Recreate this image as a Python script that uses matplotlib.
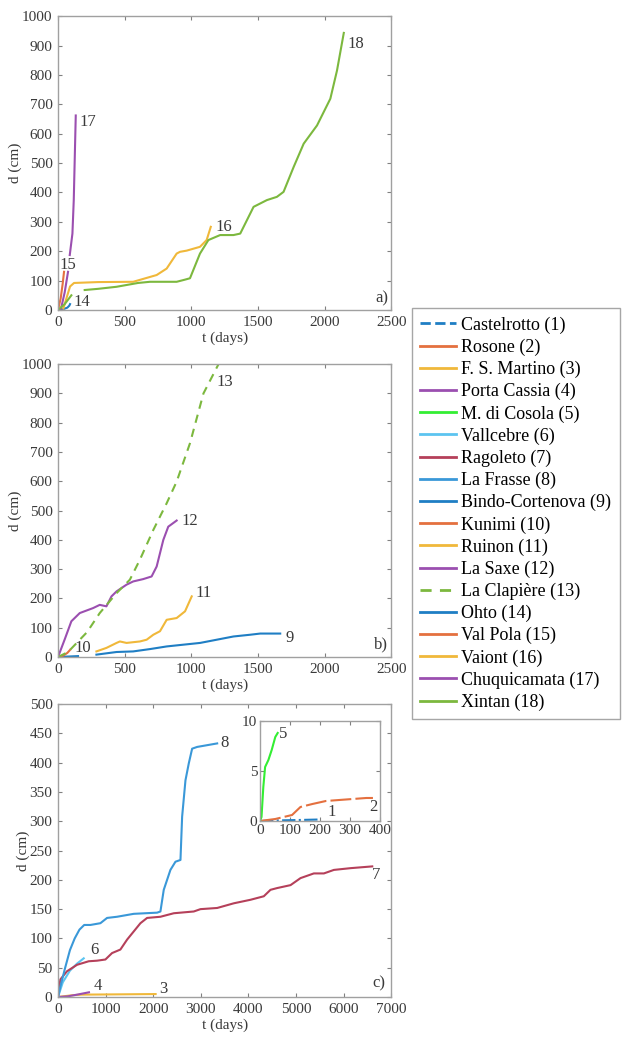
import numpy as np
import matplotlib
matplotlib.use("Agg")
import matplotlib.pyplot as plt
from matplotlib.lines import Line2D

plt.rcParams['font.family'] = ['Liberation Serif', 'DejaVu Serif']

# colours (MATLAB default order, a bit faded like the scan)
BLUE = '#1f7ec4'
ORANGE = '#e4703f'
YELLOW = '#f0b83a'
PURPLE = '#9b4fb0'
GREEN = '#7cb83e'
LGREEN = '#33ee33'
CYAN = '#5cc4f0'
RED = '#b5405a'
FRASSE = '#3a98d8'

# ---- panel a ----
t_ohto = [0, 40, 70, 85, 90]
d_ohto = [0, 3, 8, 15, 20]
t_valpola = [0, 20, 35, 45]
d_valpola = [0, 40, 90, 130]
t_vaiont = [40, 70, 90, 120, 300, 564, 740, 815, 890, 915, 965, 1065, 1115, 1146]
d_vaiont = [5, 50, 80, 92, 95, 96, 119, 141, 192, 198, 202, 215, 238, 283]
t_chuqui = [20, 50, 75, np.nan, 88, 108, 118, 133]
d_chuqui = [0, 60, 130, np.nan, 187, 260, 374, 662]
t_xintan = [0, 50, 100, np.nan, 200, 300, 439, 600, 690, 890, 950, 990, 1065, 1128, 1216, 1316,
            1367, 1467, 1567, 1642, 1692, 1768, 1843, 1943, 2043, 2093, 2144]
d_xintan = [0, 20, 50, np.nan, 68, 72, 79, 92, 96, 96, 103, 108, 192, 238, 255, 255,
            260, 351, 374, 385, 402, 487, 566, 628, 719, 815, 943]

# ---- panel b ----
t_bindo = [0, 150, np.nan, 288, 439, 564, 690, 815, 940, 1066, 1191, 1316, 1442, 1517, 1667]
d_bindo = [0, 3, np.nan, 8, 17, 19, 27, 36, 42, 48, 59, 70, 76, 80, 80]
t_kunimi = [0, 40, 70, 90]
d_kunimi = [0, 5, 14, 24]
t_ruinon = [288, 363, 439, 464, 514, 614, 665, 715, 765, 815, 890, 953, 1003]
d_ruinon = [19, 31, 48, 53, 48, 53, 59, 76, 88, 127, 133, 156, 207]
t_saxe = [0, 50, 100, 163, 263, 313, 363, 401, 439, 514, 564, 639, 702, 740, 790, 827, 890]
d_saxe = [0, 60, 122, 150, 167, 178, 173, 207, 224, 247, 258, 266, 275, 309, 400, 445, 466]
t_clap = [0, 75, 218, 313, 439, 539, 614, 715, 815, 890, 990, 1091, 1204]
d_clap = [0, 17, 85, 150, 218, 264, 332, 434, 525, 599, 730, 900, 1000]

# ---- panel c ----
t_martino = [0, 300, 500, 2050]
d_martino = [0, 3, 4, 5]
t_cassia = [0, 200, 400, 650]
d_cassia = [0, 1, 4, 8]
t_vallc = [0, 100, 250, 400, 540]
d_vallc = [0, 25, 45, 57, 66]
t_rago = [0, 49, 189, 400, 645, 820, 995, 1135, 1310, 1451, 1591, 1731, 1871, 2151, 2432, 2852,
          2992, 3343, 3693, 4043, 4323, 4463, 4603, 4884, 5094, 5374, 5585, 5795, 6146, 6601]
d_rago = [0, 30, 44, 55, 61, 62, 64, 75, 81, 98, 112, 126, 135, 137, 143, 146,
          150, 152, 160, 166, 172, 183, 186, 191, 203, 211, 211, 217, 220, 223]
t_frasse = [0, 50, 150, 250, 350, 450, 550, 680, 890, 1030, 1240, 1590, 2081, 2151, 2221, 2361,
            2467, 2572, 2607, 2677, 2747, 2817, 2922, 3343]
d_frasse = [0, 18, 50, 80, 100, 115, 123, 123, 126, 135, 137, 142, 144, 146, 183, 217,
            231, 234, 308, 370, 399, 424, 427, 433]

# ---- inset ----
t_castel = [0, 50, 130, 200]
d_castel = [0, 0.05, 0.1, 0.15]
t_rosone = [0, 51, 107, 135, 175, 220, 265, 310, 355, 377]
d_rosone = [0, 0.2, 0.6, 1.4, 1.7, 2.0, 2.1, 2.2, 2.3, 2.3]
t_cosola = [0, 5, 11, 17, 28, 39, 51, 59]
d_cosola = [0, 0.4, 3.4, 5.4, 6.1, 7.1, 8.4, 8.8]

names = ['Castelrotto (1)', 'Rosone (2)', 'F. S. Martino (3)', 'Porta Cassia (4)',
         'M. di Cosola (5)', 'Vallcebre (6)', 'Ragoleto (7)', 'La Frasse (8)',
         'Bindo-Cortenova (9)', 'Kunimi (10)', 'Ruinon (11)', 'La Saxe (12)',
         'La Clapière (13)', 'Ohto (14)', 'Val Pola (15)', 'Vaiont (16)',
         'Chuquicamata (17)', 'Xintan (18)']
colors = [BLUE, ORANGE, YELLOW, PURPLE, LGREEN, CYAN, RED, FRASSE, BLUE, ORANGE, YELLOW,
          PURPLE, GREEN, BLUE, ORANGE, YELLOW, PURPLE, GREEN]
styles = ['--', '-', '-', '-', '-', '-', '-', '-', '-', '-', '-', '-', (0, (4, 3)),
          '-', '-', '-', '-', '-']

fig = plt.figure(figsize=(6.24, 10.42), dpi=100)
ax_a = fig.add_axes([0.093, 0.7025, 0.534, 0.282])
ax_b = fig.add_axes([0.093, 0.3695, 0.534, 0.281])
ax_c = fig.add_axes([0.093, 0.0432, 0.534, 0.281])
ax_in = fig.add_axes([0.4167, 0.2121, 0.192, 0.096])

TXT = '#3a3a3a'


def style(ax, fs=11, pad=3):
    for s in ax.spines.values():
        s.set_color('#a0a0a0')
        s.set_linewidth(1.0)
    ax.tick_params(direction='in', top=True, right=True, length=3, color='#808080',
                   labelsize=fs, labelcolor=TXT, pad=pad)


lw = 1.5
ax_a.plot(t_ohto, d_ohto, color=BLUE, lw=lw)
ax_a.plot(t_valpola, d_valpola, color=ORANGE, lw=lw)
ax_a.plot(t_vaiont, d_vaiont, color=YELLOW, lw=lw)
ax_a.plot(t_chuqui, d_chuqui, color=PURPLE, lw=lw)
ax_a.plot(t_xintan, d_xintan, color=GREEN, lw=lw)
ax_a.set_xlim(0, 2500)
ax_a.set_ylim(0, 1000)
ax_a.set_xticks(range(0, 2501, 500))
ax_a.set_yticks(range(0, 1001, 100))
for x, y, s in [(2170, 905, '18'), (163, 640, '17'), (1178, 283, '16'),
                (13, 153, '15'), (113, 28, '14')]:
    ax_a.text(x, y, s, fontsize=12, color=TXT, va='center')
ax_a.text(2430, 40, 'a)', fontsize=12, color=TXT, va='center', ha='center')

ax_b.plot(t_bindo, d_bindo, color=BLUE, lw=lw)
ax_b.plot(t_kunimi, d_kunimi, color=ORANGE, lw=lw)
ax_b.plot(t_ruinon, d_ruinon, color=YELLOW, lw=lw)
ax_b.plot(t_saxe, d_saxe, color=PURPLE, lw=lw)
ax_b.plot(t_clap, d_clap, color=GREEN, lw=lw, ls=(0, (4, 3)))
ax_b.set_xlim(0, 2500)
ax_b.set_ylim(0, 1000)
ax_b.set_xticks(range(0, 2501, 500))
ax_b.set_yticks(range(0, 1001, 100))
for x, y, s in [(1191, 940, '13'), (928, 466, '12'), (1028, 218, '11'),
                (1705, 65, '9'), (125, 31, '10')]:
    ax_b.text(x, y, s, fontsize=12, color=TXT, va='center')
ax_b.text(2420, 42, 'b)', fontsize=12, color=TXT, va='center', ha='center')

ax_c.plot(t_martino, d_martino, color=YELLOW, lw=lw)
ax_c.plot(t_cassia, d_cassia, color=PURPLE, lw=lw)
ax_c.plot(t_vallc, d_vallc, color=CYAN, lw=lw)
ax_c.plot(t_rago, d_rago, color=RED, lw=lw)
ax_c.plot(t_frasse, d_frasse, color=FRASSE, lw=lw)
ax_c.set_xlim(0, 7000)
ax_c.set_ylim(0, 500)
ax_c.set_xticks(range(0, 7001, 1000))
ax_c.set_yticks(range(0, 501, 50))
for x, y, s in [(3413, 433, '8'), (6601, 208, '7'), (680, 81, '6'),
                (750, 19, '4'), (2116, 14, '3')]:
    ax_c.text(x, y, s, fontsize=12, color=TXT, va='center')
ax_c.text(6741, 24, 'c)', fontsize=12, color=TXT, va='center', ha='center')

ax_in.plot(t_castel, d_castel, color=BLUE, lw=lw, ls='-.')
ax_in.plot(t_rosone, d_rosone, color=ORANGE, lw=lw, ls=(0, (10, 2)))
ax_in.plot(t_cosola, d_cosola, color=LGREEN, lw=lw)
ax_in.set_xlim(0, 400)
ax_in.set_ylim(0, 10)
ax_in.set_xticks(range(0, 401, 100))
ax_in.set_yticks([0, 5, 10])
for x, y, s in [(64, 8.7, '5'), (225, 0.9, '1'), (365, 1.4, '2')]:
    ax_in.text(x, y, s, fontsize=12, color=TXT, va='center')

for ax in (ax_a, ax_b, ax_c):
    style(ax, pad=4)
    ax.set_xlabel('t (days)', fontsize=11, color=TXT, labelpad=2)
    ax.set_ylabel('d (cm)', fontsize=11, color=TXT, labelpad=0)
style(ax_in, pad=2)

handles = [Line2D([], [], color=c, ls=ls, lw=2) for c, ls in zip(colors, styles)]
fig.legend(handles, names, loc='upper left', bbox_to_anchor=(0.660, 0.704),
           frameon=True, fancybox=False, edgecolor='#909090', fontsize=13,
           handlelength=2.0, handletextpad=0.3, labelspacing=0.27,
           borderpad=0.45, borderaxespad=0)

fig.savefig('out.png', dpi=100)
